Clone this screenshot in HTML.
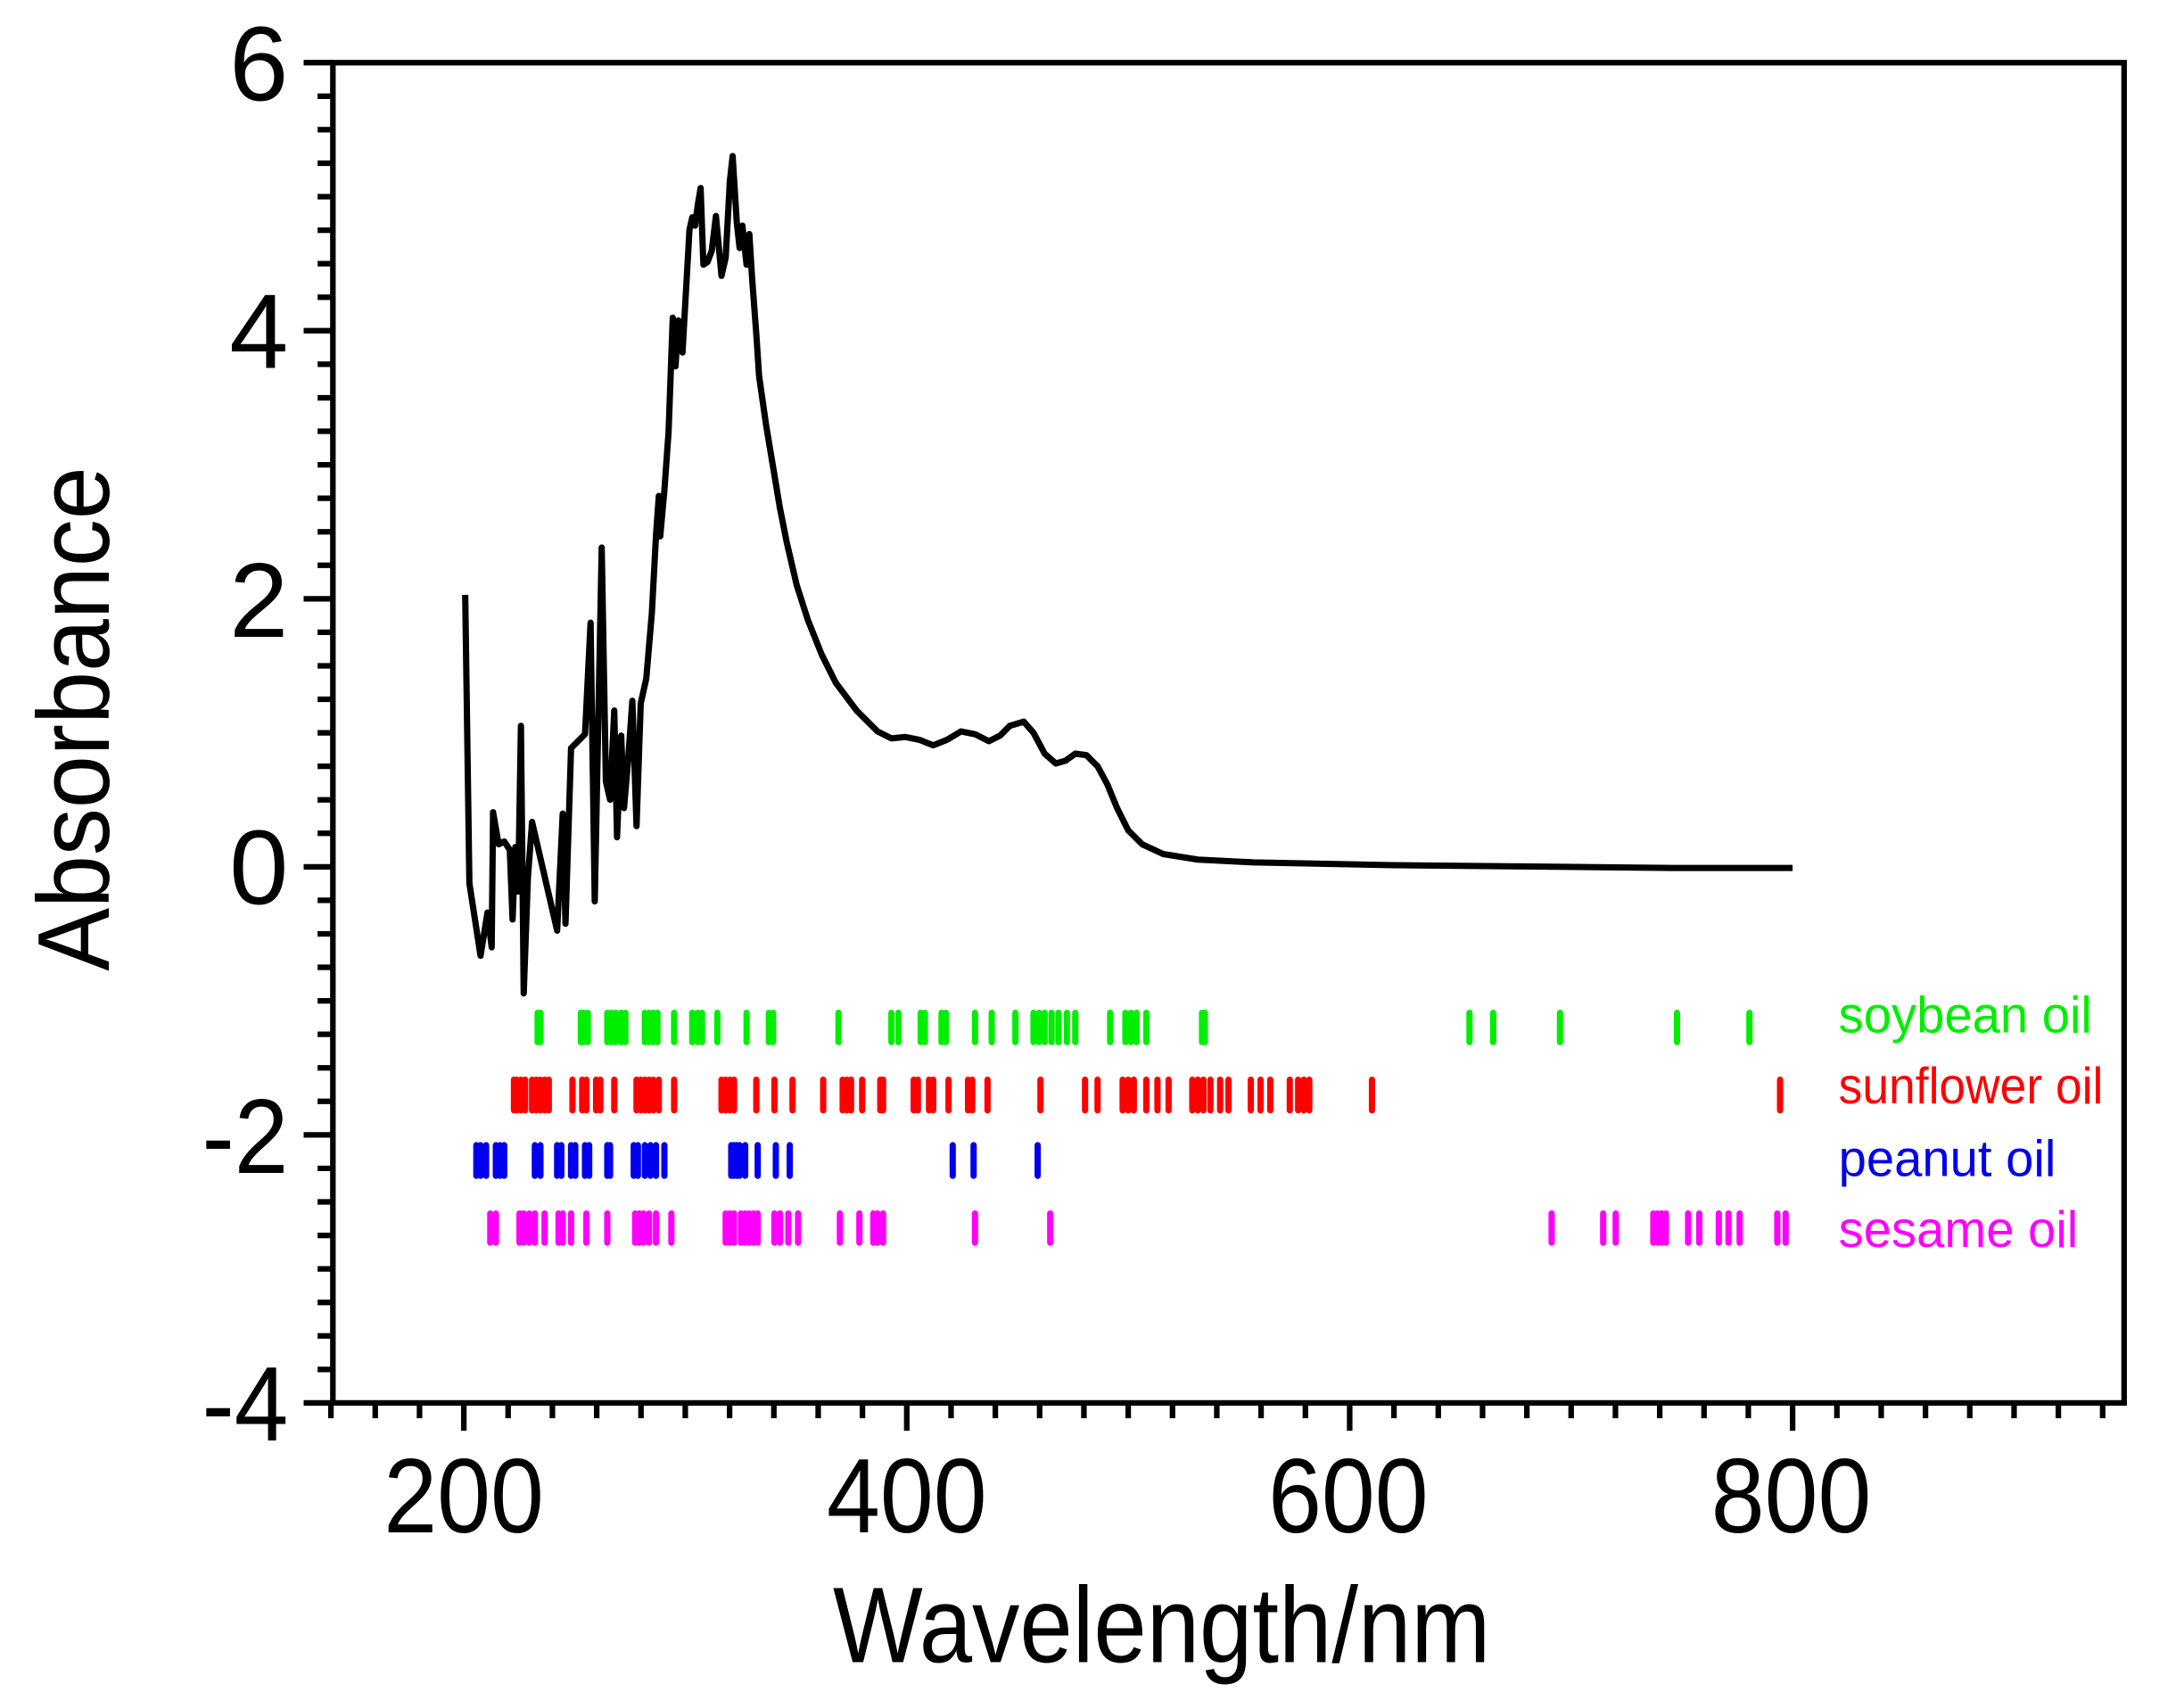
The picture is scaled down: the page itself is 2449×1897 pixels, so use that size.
<!DOCTYPE html>
<html><head><meta charset="utf-8"><style>html,body{margin:0;padding:0;background:#fff}svg{display:block}</style></head>
<body>
<svg xmlns="http://www.w3.org/2000/svg" width="2449" height="1897" viewBox="0 0 1568 1214.5" preserveAspectRatio="none" font-family="Liberation Sans, Arial, sans-serif">
<rect x="0" y="0" width="1568" height="1215" fill="#fff"/>
<g id="ticks" stroke="#000" stroke-width="4"></g>
<rect x="239" y="45" width="1286" height="962" fill="none" stroke="#000" stroke-width="4"/>
<g font-size="76" text-anchor="end" fill="#000">
<text x="207" y="72">6</text><text x="207" y="264">4</text><text x="207" y="457">2</text><text x="207" y="649">0</text><text x="207" y="842" textLength="62" lengthAdjust="spacingAndGlyphs">-2</text><text x="207" y="1034" textLength="62" lengthAdjust="spacingAndGlyphs">-4</text>
</g>
<g font-size="76" text-anchor="middle" fill="#000">
<text x="333" y="1100" textLength="115" lengthAdjust="spacingAndGlyphs">200</text><text x="651" y="1100" textLength="115" lengthAdjust="spacingAndGlyphs">400</text><text x="968" y="1100" textLength="115" lengthAdjust="spacingAndGlyphs">600</text><text x="1286" y="1100" textLength="115" lengthAdjust="spacingAndGlyphs">800</text>
</g>
<text x="834" y="1193" font-size="77" text-anchor="middle" textLength="472" lengthAdjust="spacingAndGlyphs">Wavelength/nm</text>
<text transform="translate(78,516) rotate(-90)" font-size="73" text-anchor="middle" textLength="362" lengthAdjust="spacingAndGlyphs">Absorbance</text>
<polyline fill="none" stroke="#000" stroke-width="4.5" stroke-linejoin="round" points="334,427 337,634 345,686 350,655 353,680 354,583 358,606 362,604 366,610 368,660 370,608 372,640 374,521 376,713 379,630 382,590 400,668 404,584 406,663 410,537 420,527 424,447 427,647 432,393 435,561 438,574 441,510 443,601 446,528 448,580 451,545 454,503 457,593 460,505 464,487 468,440 471,384 473,356 474,385 477,352 480,310 483,228 485,263 487,230 490,253 495,165 497,156 499,162 501,147 503,135 505,190 508,188 511,180 514,155 518,198 521,185 524,130 526,112 529,160 531,178 533,162 536,190 538,168 540,200 543,240 545,270 550,305 555,335 560,365 565,390 572,420 580,445 590,470 600,490 615,510 630,525 640,530 650,529 660,531 670,535 680,531 690,525 700,527 710,532 718,528 725,521 735,518 742,526 750,541 758,548 765,546 772,541 780,542 788,550 795,563 802,580 810,596 820,606 835,613 860,617 900,619 1000,621 1100,622 1200,623 1287,623"/>
<g id="rug" stroke-width="4.5" stroke-linecap="round"></g>
<g font-size="37">
<text x="1320" y="741" fill="#00ee00" textLength="182" lengthAdjust="spacingAndGlyphs">soybean oil</text>
<text x="1320" y="792" fill="#ff0000" textLength="190" lengthAdjust="spacingAndGlyphs">sunflower oil</text>
<text x="1320" y="844" fill="#0000ee" textLength="156" lengthAdjust="spacingAndGlyphs">peanut oil</text>
<text x="1320" y="895" fill="#ff00ff" textLength="172" lengthAdjust="spacingAndGlyphs">sesame oil</text>
</g>
<script>
var ns="http://www.w3.org/2000/svg";
function ln(g,x1,y1,x2,y2,c){var l=document.createElementNS(ns,"line");l.setAttribute("x1",x1);l.setAttribute("y1",y1);l.setAttribute("x2",x2);l.setAttribute("y2",y2);if(c)l.setAttribute("stroke",c);g.appendChild(l);}
var t=document.getElementById("ticks");
for(var i=0;i<=40;i++){var y=45+i*962/40;var maj=(i%8==0);ln(t,maj?218:228,y,239,y);}
for(var v=140;v<=940;v+=20){var x=333+(v-200)*(954/600);if(x>1526)break;var maj=(v%200==0);ln(t,x,1007,x,maj?1027:1018);}
var r=document.getElementById("rug");
var sets=[
["#00ee00",727,748,[386,388,417,419,422,436,439,442,446,449,463,466,469,472,484,497,501,504,515,536,552,555,602,640,645,661,664,676,679,700,712,729,742,746,750,755,760,766,772,797,808,812,816,823,863,865,1055,1072,1120,1204,1256]],
["#ff0000",775,797,[369,371,374,377,382,385,388,391,394,411,418,421,428,431,441,457,460,463,466,469,473,484,518,521,524,527,543,556,569,591,605,608,611,619,632,634,656,659,667,670,681,695,698,709,747,779,788,806,810,814,823,831,839,856,860,864,869,876,882,898,905,912,926,932,936,940,985,1278]],
["#0000ee",822,844,[342,345,349,356,359,362,384,388,400,403,410,413,420,423,436,438,455,458,463,467,471,477,525,527,529,531,535,544,557,567,684,699,745]],
["#ff00ff",871,892,[352,356,373,376,380,384,391,401,404,410,421,436,456,459,462,466,471,482,521,524,527,532,535,538,541,544,556,560,566,573,603,617,627,630,634,700,754,1114,1151,1160,1187,1190,1193,1196,1212,1220,1234,1241,1249,1276,1282]]];
sets.forEach(function(s){s[3].forEach(function(x){ln(r,x,s[1],x,s[2],s[0]);});});
</script>
</svg>
</body></html>
